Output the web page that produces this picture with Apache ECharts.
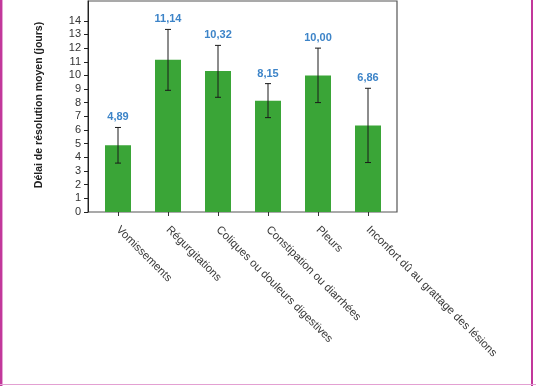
<!DOCTYPE html>
<html><head><meta charset="utf-8">
<script src="https://cdn.jsdelivr.net/npm/echarts@6/dist/echarts.min.js"></script>
<style>html,body{margin:0;padding:0;background:#fff}#c{width:536px;height:386px}</style>
</head><body><div id="c"></div>
<script>
var categories = ['Vomissements','Régurgitations','Coliques ou douleurs digestives','Constipation ou diarrhées','Pleurs','Inconfort dû au grattage des lésions'];
var barValues = [4.89, 11.14, 10.32, 8.15, 10.00, 6.34];
var valueLabels = ['4,89','11,14','10,32','8,15','10,00','6,86'];
var errLow = [3.58, 8.91, 8.40, 6.91, 8.01, 3.62];
var errHigh = [6.19, 13.37, 12.20, 9.40, 12.00, 9.06];
var yTicks = [0,1,2,3,4,5,6,7,8,9,10,11,12,13,14];

var FONT = 'Liberation Sans';
var chart = echarts.init(document.getElementById('c'), null, {renderer:'canvas'});
var YMAX = 15.45;
var errData = categories.map(function(c,i){return [i, errLow[i], errHigh[i]];});
var lblData = categories.map(function(c,i){return [i, errHigh[i], valueLabels[i]];});
chart.setOption({
  animation:false,
  backgroundColor:'#fff',
  grid:[
    {left:88, top:1, right:139, bottom:174, show:true, borderColor:'#555', borderWidth:1.2, backgroundColor:'transparent'},
    {left:93, top:1, right:143, bottom:174}
  ],
  xAxis:[
    {gridIndex:0, type:'value', min:0, max:1, show:false},
    {gridIndex:1, type:'category', data:categories, boundaryGap:true,
     axisLine:{show:false},
     axisTick:{show:true, alignWithLabel:true, length:4, lineStyle:{color:'#333'}},
     axisLabel:{rotate:-45, interval:0, margin:16, color:'#3a3a3a', fontFamily:FONT, fontSize:11.3}}
  ],
  yAxis:[
    {gridIndex:0, type:'value', min:0, max:YMAX,
     axisLine:{show:true, lineStyle:{color:'#222', width:1}},
     axisTick:{show:true, length:4, customValues:yTicks, lineStyle:{color:'#222'}},
     axisLabel:{customValues:yTicks, margin:7, color:'#333', fontFamily:FONT, fontSize:11},
     splitLine:{show:false}},
    {gridIndex:1, type:'value', min:0, max:YMAX, show:false, splitLine:{show:false}}
  ],
  series:[
    {type:'bar', xAxisIndex:1, yAxisIndex:1, data:barValues, barWidth:26,
     itemStyle:{color:'#3aa537'}},
    {type:'custom', xAxisIndex:1, yAxisIndex:1, data:errData, z:5,
     renderItem:function(params, api){
       var x = api.value(0);
       var lo = api.coord([x, api.value(1)]);
       var hi = api.coord([x, api.value(2)]);
       var w = 3;
       var st = {stroke:'#1a1a1a', lineWidth:1};
       return {type:'group', children:[
         {type:'line', shape:{x1:hi[0],y1:hi[1],x2:lo[0],y2:lo[1]}, style:st},
         {type:'line', shape:{x1:hi[0]-w,y1:hi[1],x2:hi[0]+w,y2:hi[1]}, style:st},
         {type:'line', shape:{x1:lo[0]-w,y1:lo[1],x2:lo[0]+w,y2:lo[1]}, style:st}
       ]};
     }},
    {type:'custom', xAxisIndex:1, yAxisIndex:1, data:lblData, z:6,
     renderItem:function(params, api){
       var x = api.value(0);
       var p = api.coord([x, api.value(1)]);
       return {type:'text', x:p[0], y:p[1]-10, style:{text:lblData[params.dataIndex][2], align:'center', verticalAlign:'middle', fill:'#3d84c8', font:'bold 11px "'+FONT+'"'}};
     }}
  ],
  graphic:[
    {type:'text', x:39, y:105, rotation:Math.PI/2, style:{text:'Délai de résolution moyen (jours)', align:'center', verticalAlign:'middle', fill:'#222', font:'bold 10.5px "'+FONT+'"'}},
    {type:'rect', shape:{x:0,y:0,width:2,height:386}, style:{fill:'#c2389b'}},
    {type:'rect', shape:{x:2,y:0,width:1,height:386}, style:{fill:'#e6a6d6'}},
    {type:'rect', shape:{x:531,y:0,width:2,height:386}, style:{fill:'#c2389b'}},
    {type:'rect', shape:{x:0,y:384,width:536,height:1}, style:{fill:'#e3a0d2'}}
  ]
});
</script></body></html>
